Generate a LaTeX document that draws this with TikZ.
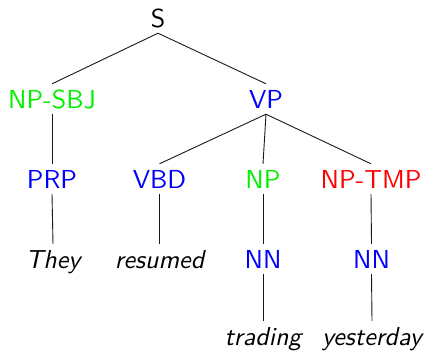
\documentclass[tikz,border=0pt]{standalone}
\usepackage{fontspec}
\newfontfamily\treefont[ItalicFont=lmsans10-oblique.otf]{lmsans10-regular.otf}
\definecolor{tgreen}{RGB}{0,240,0}
\definecolor{tblue}{RGB}{0,0,255}
\definecolor{tred}{RGB}{255,0,0}
\tikzset{
  lbl/.style={anchor=base, font=\treefont\fontsize{26}{30}\selectfont, text height=18pt, text depth=0pt, inner xsep=0pt, inner ysep=6pt},
  word/.style={lbl, font=\treefont\itshape\fontsize{26}{30}\selectfont, text=black},
  edge/.style={draw=black!90, line width=0.9pt}
}
\begin{document}
\begin{tikzpicture}[x=1pt,y=-1pt]
\useasboundingbox (0,0) rectangle (425,351);
\node[lbl] (S) at (158,27) {S};
\node[lbl, text=tgreen] (npsbj) at (52,108) {NP-SBJ};
\node[lbl, text=tblue] (vp) at (266,108) {VP};
\node[lbl, text=tblue] (prp) at (52,188) {PRP};
\node[lbl, text=tblue] (vbd) at (159.5,188) {VBD};
\node[lbl, text=tgreen] (np) at (263,188) {NP};
\node[lbl, text=tred] (nptmp) at (371,188) {NP-TMP};
\node[word] (they) at (53,268) {They};
\node[word] (resumed) at (159.5,268) {resumed};
\node[lbl, text=tblue] (nn1) at (263,268) {NN};
\node[lbl, text=tblue] (nn2) at (371.5,268) {NN};
\node[word] (trading) at (263,345) {trading};
\node[word] (yesterday) at (372,345) {yesterday};
\draw[edge] (S.south) -- (npsbj.north);
\draw[edge] (S.south) -- (vp.north);
\draw[edge] (npsbj.south) -- (prp.north);
\draw[edge] (vp.south) -- (vbd.north);
\draw[edge] (vp.south) -- (np.north);
\draw[edge] (vp.south) -- (nptmp.north);
\draw[edge] (prp.south) -- (they.north);
\draw[edge] (vbd.south) -- (resumed.north);
\draw[edge] (np.south) -- (nn1.north);
\draw[edge] (nptmp.south) -- (nn2.north);
\draw[edge] (nn1.south) -- (trading.north);
\draw[edge] (nn2.south) -- (yesterday.north);
\end{tikzpicture}
\end{document}
